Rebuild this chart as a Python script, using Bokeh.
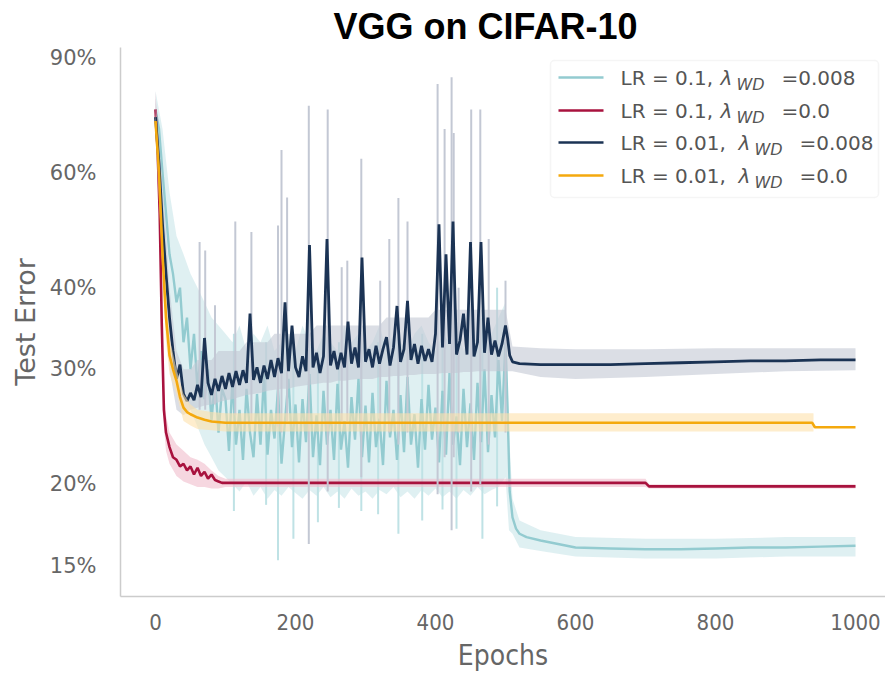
import math
from bokeh.plotting import figure
from bokeh.models import Range1d, FixedTicker, CustomJSTickFormatter, Label, BoxAnnotation
from bokeh.embed import file_html
from bokeh.resources import INLINE

# ---------------- data (test error, %) ----------------
STEP5 = list(range(0, 501, 5))
STEP10 = list(range(0, 501, 10))

# LR = 0.1, wd = 0.008  (teal)
teal_x = STEP5 + [503, 506, 510, 515, 520, 530, 550, 575, 600, 650, 700, 750, 800, 850, 900, 950, 1000]
teal_y = [75, 70, 60, 52, 45, 42, 38, 40, 33, 36,
          30, 34, 28, 32, 27, 30, 25, 29, 24, 28,
          27, 22.5, 29, 23, 26, 21.8, 28, 24, 22, 27.5,
          23, 29.5, 22.2, 26, 23.5, 28, 21.5, 25, 29, 22.8,
          26.5, 21.6, 27, 23.2, 29.5, 22, 25.5, 21.4, 27.8, 23,
          26, 21.8, 28.5, 22.6, 25, 21.2, 27.2, 23.4, 29, 22,
          26.4, 21.6, 27.6, 22.8, 25.2, 21.4, 28.8, 23.6, 26, 21.8,
          27.4, 22.4, 29.2, 23, 25.6, 21.2, 27, 22.6, 28.4, 23.4,
          26.2, 21.6, 27.8, 22.2, 29.6, 23, 25.4, 21.4, 28, 22.8,
          26.6, 21.8, 28.6, 23.2, 30, 22.4, 27.4, 23.6, 31, 25,
          33,
          26, 19.5, 17.8, 17.1, 16.8, 16.6, 16.4, 16.2, 16.0, 15.95, 15.9, 15.9, 15.95, 16.0, 16.0, 16.05, 16.1]
teal_band_x = STEP10 + [505, 510, 520, 550, 600, 700, 800, 900, 1000]
teal_band_hi = [80, 70, 56, 48, 45, 42, 40, 38, 36, 35,
                34, 33, 35, 32, 34, 33, 35, 32, 33, 34,
                32, 35, 33, 32, 34, 33, 32, 35, 33, 34,
                32, 33, 35, 32, 34, 33, 32, 34, 35, 33,
                32, 34, 33, 35, 32, 34, 33, 35, 34, 36,
                38,
                24, 19, 17.6, 17.0, 16.6, 16.5, 16.5, 16.6, 16.6]
teal_band_lo = [70, 50, 38, 31, 28, 26, 24.5, 23, 22, 21,
                20.5, 20, 19.5, 20.2, 19.2, 19.8, 19, 19.6, 19.2, 19.8,
                19.4, 19, 19.6, 19.2, 19.8, 19.1, 19.5, 19, 19.7, 19.2,
                19.5, 19, 19.6, 19.3, 19.8, 19.1, 19.5, 19, 19.6, 19.2,
                19.7, 19.1, 19.5, 19, 19.6, 19.2, 19.8, 19.3, 19.6, 19.8,
                20.5,
                17, 16.8, 16.0, 15.8, 15.5, 15.4, 15.4, 15.5, 15.5]
teal_spk_ep = [112, 158, 175, 197, 232, 262, 294, 318, 347, 381, 410, 430, 467, 488]
teal_spk_lo = [18.2, 18.6, 15.3, 16.5, 17.5, 18.4, 18.2, 18.0, 16.8, 17.6, 18.3, 17.1, 16.5, 18.5]
teal_spk_hi = [34, 33, 36, 33, 32, 33, 35, 33, 33, 34, 33, 33, 36, 40]

# LR = 0.1, wd = 0.0  (crimson)
crim_x = [0, 3, 6, 9, 12, 15, 20, 25, 30, 35, 40, 45, 50, 55, 60, 65, 70, 75, 80, 85, 90, 95, 100, 700, 705, 1000]
crim_y = [75, 65, 52, 35, 26, 24, 22.8, 22.0, 21.8, 21.3, 21.5, 21.0, 21.3, 20.7, 21.2, 20.6, 20.9, 20.4,
          20.7, 20.3, 20.2, 20.1, 20.1, 20.1, 19.85, 19.85]
crim_band_x = [0, 3, 6, 9, 12, 15, 20, 30, 40, 50, 60, 70, 80, 90, 100, 700, 705, 1000]
crim_band_hi = [80, 70, 56, 38, 28, 25.5, 24, 23, 22.5, 22, 21.8, 21.5, 21.0, 20.6, 20.4, 20.4, 20.0, 20.0]
crim_band_lo = [72, 60, 48, 32, 24.5, 22.5, 21.5, 20.6, 20.2, 20, 19.8, 19.8, 19.7, 19.7, 19.8, 19.8, 19.7, 19.7]

# LR = 0.01, wd = 0.008  (navy)
navy_x = STEP5 + [503, 506, 510, 520, 550, 600, 650, 700, 750, 800, 850, 900, 950, 1000]
navy_y = [73, 62, 50, 42, 36, 32, 29, 30.5, 27.5, 26.8,
          27.6, 26.9, 28.4, 27.2, 33.5, 28.6, 27.4, 29.0, 27.8, 29.3,
          28.0, 29.6, 28.2, 29.8, 28.4, 29.9, 28.6, 36.5, 28.9, 30.2,
          28.6, 30.4, 29.0, 31.0, 29.2, 31.2, 29.6, 38.0, 29.8, 35.0,
          30.2, 29.2, 31.4, 29.8, 46.5, 30.2, 31.8, 29.6, 31.4, 47.5,
          30.4, 32.0, 30.0, 31.8, 30.2, 35.5, 30.6, 32.4, 30.2, 44.5,
          30.8, 32.2, 30.2, 32.6, 30.6, 32.2, 33.6, 30.4, 32.4, 37.5,
          30.8, 32.2, 38.2, 31.0, 32.8, 30.6, 32.6, 30.9, 32.2, 30.8,
          34.0, 50.0, 32.4, 45.0, 32.8, 50.5, 31.6, 33.2, 36.5, 31.6,
          47.0, 31.4, 33.0, 47.0, 31.8, 36.0, 31.6, 33.2, 31.4, 32.8,
          35.0,
          33.5, 31.5, 30.8, 30.6, 30.5, 30.5, 30.5, 30.6, 30.7, 30.8, 30.9, 30.9, 31.0, 31.0]
navy_band_x = STEP10 + [510, 550, 600, 700, 800, 900, 1000]
navy_band_hi = [78, 58, 40, 32, 30, 30, 31, 31, 31, 32,
                32, 32, 32, 33, 33, 33, 33, 34, 34, 34,
                34, 34, 34, 35, 35, 35, 35, 35, 35, 35,
                35, 35, 35, 36, 36, 36, 36, 36, 36, 36,
                37, 37, 37, 37, 37, 37, 37, 37, 37, 37,
                37,
                32.5, 32.3, 32.2, 32.2, 32.3, 32.3, 32.3]
navy_band_lo = [68, 43, 30, 26, 25.5, 26, 26.2, 26.4, 26.5, 26.7,
                26.9, 27.0, 27.2, 27.4, 27.5, 27.6, 27.8, 27.9, 28, 28,
                28.2, 28.3, 28.4, 28.5, 28.6, 28.6, 28.8, 28.8, 28.9, 29,
                29, 29, 29.2, 29.2, 29.3, 29.3, 29.4, 29.4, 29.5, 29.5,
                29.5, 29.6, 29.6, 29.6, 29.7, 29.7, 29.8, 29.8, 29.8, 29.8,
                29.8,
                29.8, 29.2, 29.0, 29.2, 29.5, 29.8, 29.9]
navy_spk_ep = [63, 71, 85, 114, 137, 175, 180, 188, 219, 246, 266, 274, 294, 321, 334, 347, 360,
               403, 413, 423, 426, 433, 451, 464, 476, 500]
navy_spk_hi = [47, 45.6, 37.6, 50.5, 48.7, 49.8, 65, 55, 76, 75, 43, 44, 63, 41, 47.5, 54.9, 50.5,
               82, 70, 84, 69, 40, 75, 75, 47.5, 41]
navy_spk_lo = [26, 26, 26.5, 25.5, 25, 24.5, 24, 25, 16.2, 19.5, 25, 25, 20.5, 25, 24, 23, 24,
               19.3, 22, 17, 22, 24, 19.5, 20, 23, 24]

# LR = 0.01, wd = 0.0  (orange)
orng_x = [0, 5, 10, 15, 20, 25, 30, 35, 40, 45, 50, 60, 70, 80, 100, 938, 942, 1000]
orng_y = [72, 60, 45, 36, 31.5, 30, 28.8, 27.2, 26.2, 25.8, 25.6, 25.3, 25.1, 24.95, 24.85, 24.85, 24.45, 24.45]
orng_band_x = [0, 5, 10, 15, 20, 30, 40, 50, 60, 80, 100, 940]
orng_band_hi = [74, 63, 48, 39, 33.5, 30, 27.5, 26.5, 26.0, 25.8, 25.7, 25.7]
orng_band_lo = [70, 57, 42, 33, 29.5, 27.5, 25, 24.6, 24.3, 24.2, 24.1, 24.1]

y_ticks = [15, 20, 30, 40, 60, 90]
x_ticks = [0, 200, 400, 600, 800, 1000]

labels_main = ["LR = 0.1,", "LR = 0.1,", "LR = 0.01,", "LR = 0.01,"]
labels_tail = ["=0.008", "=0.0", "=0.008", "=0.0"]

# ---------------- styling / layout ----------------
TEAL, TEAL_BAND = "#93cbd0", "#bfe2e5"
CRIM, CRIM_BAND = "#a8123e", "#f0bccb"
NAVY, NAVY_BAND = "#1b3354", "#c3c8d4"
ORNG, ORNG_BAND = "#f4a90e", "#fde1ac"
GRAY_TXT = "#666666"
FONT = "DejaVu Sans"
NARROW = "Liberation Sans Narrow, DejaVu Sans Condensed, DejaVu Sans"

# pixel <-> data helpers (frame: left 120, top 47; 0.7 px/epoch; 653 px/decade)
def ex(px):
    return (px - 155) / 0.7

Y_TOP = 93.3
def ey(py):
    return 10 ** (math.log10(Y_TOP) - (py - 47) / 653.0)

p = figure(width=885, height=674, x_range=Range1d(ex(120), ex(885)),
           y_range=Range1d(ey(596), Y_TOP), y_axis_type="log",
           output_backend="svg", toolbar_location=None,
           min_border_left=120, min_border_right=0, min_border_top=47, min_border_bottom=78)
p.outline_line_color = None
p.xgrid.visible = False
p.ygrid.visible = False
p.background_fill_color = "white"

p.title.text = "VGG on CIFAR-10"
p.title.text_font = "Liberation Sans"
p.title.text_font_style = "bold"
p.title.text_font_size = "36px"
p.title.text_color = "black"
p.title.align = "left"
p.title.offset = 213
p.title.standoff = 2

for ax in (p.xaxis[0], p.yaxis[0]):
    ax.axis_line_color = "#cccccc"
    ax.axis_line_width = 1.5
    ax.major_tick_line_color = None
    ax.minor_tick_line_color = None
    ax.major_label_text_color = GRAY_TXT
    ax.axis_label_text_color = GRAY_TXT
    ax.axis_label_text_font_style = "normal"

p.xaxis.ticker = FixedTicker(ticks=x_ticks)
p.xaxis.axis_label = "Epochs"
p.xaxis.major_label_text_font = NARROW
p.xaxis.major_label_text_font_size = "22px"
p.xaxis.axis_label_text_font = NARROW
p.xaxis.axis_label_text_font_size = "28px"
p.xaxis.major_label_standoff = 11
p.xaxis.axis_label_standoff = 6

p.yaxis.ticker = FixedTicker(ticks=y_ticks, minor_ticks=[])
p.yaxis.formatter = CustomJSTickFormatter(code="return Math.round(tick) + '%';")
p.yaxis.major_label_text_font = FONT
p.yaxis.major_label_text_font_size = "21px"
p.yaxis.axis_label = "Test Error"
p.yaxis.axis_label_text_font = FONT
p.yaxis.axis_label_text_font_size = "27px"
p.yaxis.major_label_standoff = 18
p.yaxis.axis_label_standoff = 6

# ---------------- series ----------------
# teal
p.varea(x=teal_band_x, y1=teal_band_lo, y2=teal_band_hi, fill_color=TEAL_BAND, fill_alpha=0.5)
p.segment(x0=teal_spk_ep, x1=teal_spk_ep, y0=teal_spk_lo, y1=teal_spk_hi, line_color=TEAL_BAND, line_width=2)
p.line(teal_x, teal_y, line_color=TEAL, line_width=2.4)
# crimson
p.varea(x=crim_band_x, y1=crim_band_lo, y2=crim_band_hi, fill_color=CRIM_BAND, fill_alpha=0.6)
p.line(crim_x, crim_y, line_color=CRIM, line_width=2.6)
# navy
p.varea(x=navy_band_x, y1=navy_band_lo, y2=navy_band_hi, fill_color=NAVY_BAND, fill_alpha=0.6)
p.segment(x0=navy_spk_ep, x1=navy_spk_ep, y0=navy_spk_lo, y1=navy_spk_hi, line_color=NAVY_BAND, line_width=2)
p.line(navy_x, navy_y, line_color=NAVY, line_width=2.8)
# orange
p.varea(x=orng_band_x, y1=orng_band_lo, y2=orng_band_hi, fill_color=ORNG_BAND, fill_alpha=0.6)
p.line(orng_x, orng_y, line_color=ORNG, line_width=2.6)

# ---------------- legend (drawn by hand for the subscript) ----------------
p.add_layout(BoxAnnotation(left=ex(550), right=ex(878), top=ey(60), bottom=ey(197),
                           fill_color="white", fill_alpha=0.9, line_color="#dddddd",
                           line_width=1.5, border_radius=4, level="underlay"))
rows_px = [77, 110, 142, 175]
leg_colors = [TEAL, CRIM, NAVY, ORNG]
p.segment(x0=[ex(558)] * 4, x1=[ex(603)] * 4, y0=[ey(r) for r in rows_px], y1=[ey(r) for r in rows_px],
          line_color=leg_colors, line_width=2.6)
lam_px = [720, 720, 738, 738]
for i, r in enumerate(rows_px):
    common = dict(text_color="#555555", text_font=FONT, text_baseline="middle")
    p.add_layout(Label(x=ex(620), y=ey(r), text=labels_main[i], text_font_size="20px", **common))
    p.add_layout(Label(x=ex(lam_px[i]), y=ey(r), text="λ", text_font_size="20px",
                       text_font_style="italic", **common))
    p.add_layout(Label(x=ex(lam_px[i] + 16), y=ey(r + 7), text="WD", text_font_size="16px",
                       text_font_style="italic", **common))
    p.add_layout(Label(x=ex(lam_px[i] + 61), y=ey(r), text=labels_tail[i], text_font_size="20px", **common))

open("out.html", "w").write(file_html(p, INLINE))
